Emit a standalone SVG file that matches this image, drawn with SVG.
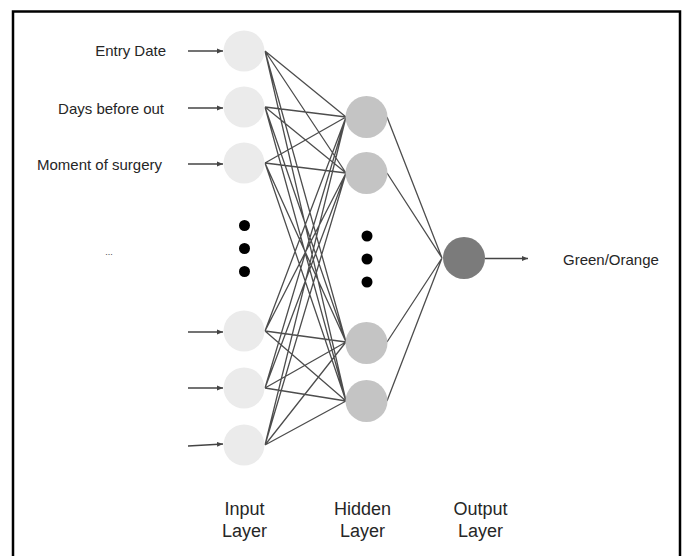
<svg xmlns="http://www.w3.org/2000/svg" width="682" height="556" viewBox="0 0 682 556">
<style>
text{font-family:"Liberation Sans",Arial,sans-serif;fill:#262626}
.lbl{font-size:15px}
.layer{font-size:18px;text-anchor:middle}
.ell{font-size:9px;text-anchor:middle;fill:#444}
.in{fill:#ebebeb}
.hid{fill:#c4c4c4}
.out{fill:#7b7b7b}
.dot{fill:#000}
.edge{stroke:#4d4d4d;stroke-width:1.3;fill:none}
.arr{stroke:#444;stroke-width:1.3;fill:none;marker-end:url(#ah)}
</style>
<defs>
<marker id="ah" viewBox="0 0 10 10" refX="10" refY="5" markerWidth="6" markerHeight="6" markerUnits="userSpaceOnUse" orient="auto">
<path d="M0,1 L10,5 L0,9 Z" fill="#444"/>
</marker>
</defs>
<rect width="682" height="556" fill="#fff"/>
<path d="M13,556 V11.5 H680 V556" fill="none" stroke="#000" stroke-width="2.5"/>

<g id="connectors">
<path class="edge" d="M265,51 L346,117 M265,51 L346,173 M265,51 L346,342 M265,51 L346,401
M265,107 L346,117 M265,107 L346,173 M265,107 L346,342 M265,107 L346,401
M265,163 L346,117 M265,163 L346,173 M265,163 L346,342 M265,163 L346,401
M265,331 L346,117 M265,331 L346,173 M265,331 L346,342 M265,331 L346,401
M265,388 L346,117 M265,388 L346,173 M265,388 L346,342 M265,388 L346,401
M265,445 L346,117 M265,445 L346,173 M265,445 L346,342 M265,445 L346,401
M387,117 L442,258 M387,173 L442,258 M387,342 L442,258 M387,401 L442,258"/>
<line class="arr" x1="188" y1="51" x2="223" y2="51"/>
<line class="arr" x1="188" y1="108" x2="223" y2="108"/>
<line class="arr" x1="188" y1="164" x2="223" y2="164"/>
<line class="arr" x1="188" y1="332" x2="223" y2="332"/>
<line class="arr" x1="188" y1="388" x2="223" y2="388"/>
<line class="arr" x1="188" y1="446" x2="223" y2="444"/>
<line class="arr" x1="485" y1="258.5" x2="528" y2="258.5"/>
</g>

<g id="input1"><circle class="in" cx="244" cy="51" r="20.5"/><text class="lbl" x="166" y="56" text-anchor="end">Entry Date</text></g>
<g id="input2"><circle class="in" cx="244" cy="107" r="20.5"/><text class="lbl" x="164" y="114" text-anchor="end">Days before out</text></g>
<g id="input3"><circle class="in" cx="244" cy="163" r="20.5"/><text class="lbl" x="162" y="170" text-anchor="end">Moment of surgery</text></g>
<g id="input-ellipsis"><circle class="dot" cx="244.5" cy="225.5" r="5.5"/><circle class="dot" cx="244.5" cy="248.5" r="5.5"/><circle class="dot" cx="244.5" cy="271.5" r="5.5"/><text class="ell" x="109" y="255">...</text></g>
<g id="input4"><circle class="in" cx="244" cy="331" r="20.5"/></g>
<g id="input5"><circle class="in" cx="244" cy="388" r="20.5"/></g>
<g id="input6"><circle class="in" cx="244" cy="445" r="20.5"/></g>

<g id="hidden1"><circle class="hid" cx="366.5" cy="117" r="21"/></g>
<g id="hidden2"><circle class="hid" cx="366.5" cy="173" r="21"/></g>
<g id="hidden-ellipsis"><circle class="dot" cx="367" cy="236" r="5.5"/><circle class="dot" cx="367" cy="259" r="5.5"/><circle class="dot" cx="367" cy="282" r="5.5"/></g>
<g id="hidden3"><circle class="hid" cx="366.5" cy="343" r="21"/></g>
<g id="hidden4"><circle class="hid" cx="366.5" cy="401" r="21"/></g>

<g id="output"><circle class="out" cx="464" cy="258" r="21"/><text class="lbl" x="563" y="265">Green/Orange</text></g>

<g id="layer-labels">
<text class="layer" x="244.5" y="515">Input</text><text class="layer" x="244.5" y="537">Layer</text>
<text class="layer" x="362.5" y="515">Hidden</text><text class="layer" x="362.5" y="537">Layer</text>
<text class="layer" x="480.5" y="515">Output</text><text class="layer" x="480.5" y="537">Layer</text>
</g>
</svg>
